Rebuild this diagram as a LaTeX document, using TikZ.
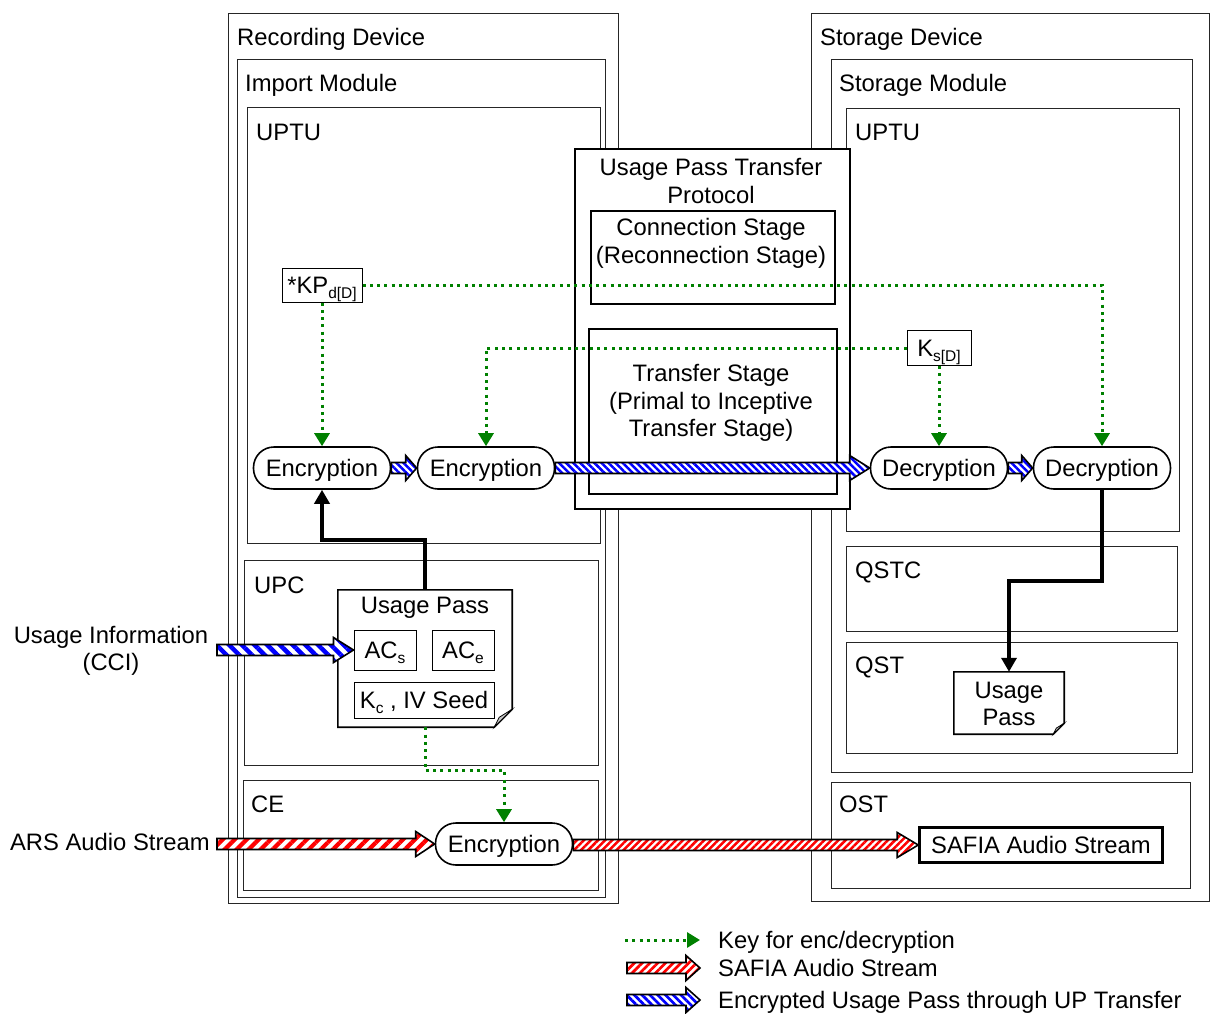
\documentclass[tikz,border=0pt]{standalone}
\usepackage{fontspec}
\setmainfont{Liberation Sans}
\usetikzlibrary{arrows.meta,patterns.meta,calc}

\definecolor{keygreen}{RGB}{0,128,0}
\definecolor{upblue}{RGB}{0,0,255}
\definecolor{avred}{RGB}{255,0,0}

% lowered small index text
\newcommand\subs[1]{\raisebox{-4.5pt}{\fontsize{15.5}{15.5}\selectfont #1}}

% region box with its top-left corner at (#2,#3)
\newcommand\regionbox[6][]{\node[frame,#1, minimum width=#5pt, minimum height=#6pt] (#2) at (#3,#4) {};}

% broad hatched arrow: #1 style, #2 head length, #3 tail, #4 tip
\newcommand\fatarrow[4]{%
  \filldraw[#1] let \p1=(#3), \p2=(#4) in
    (\x1,\y2+5.5pt) -- (\x2-#2,\y2+5.5pt) -- (\x2-#2,\y2+12.5pt) -- (\x2,\y2)
    -- (\x2-#2,\y2-12.5pt) -- (\x2-#2,\y2-5.5pt) -- (\x1,\y2-5.5pt) -- cycle;}

% sheet of paper with a turned-down corner, drawn over node #1
\newcommand\paperdoc[2]{%
  \filldraw[docline] (#1.north west) -- (#1.north east) -- ($(#1.south east)+(0,-#2)$)
    -- ($(#1.south east)+(-#2,0)$) -- (#1.south west) -- cycle;
  \filldraw[fill=gray!45, line width=0.8pt] ($(#1.south east)+(0,-#2)$)
    -- ($(#1.south east)+(-0.72*#2,-0.55*#2)$) -- ($(#1.south east)+(-#2,0)$) -- cycle;}

\tikzset{
  frame/.style={draw=black!85, line width=1.3pt, fill=white, anchor=north west, inner sep=0pt},
  lbl/.style={anchor=base west, inner sep=0pt},
  stadium/.style={draw, line width=1.6pt, fill=white, rounded corners=20.5pt,
    minimum width=137pt, minimum height=42pt, inner sep=0pt, text height=17pt, text depth=0pt},
  keybox/.style={draw, line width=1pt, fill=white, inner sep=0pt, text height=17pt, text depth=0pt},
  docline/.style={draw, line width=1.6pt, fill=white},
  keyline/.style={draw=keygreen, line width=3pt, dash pattern=on 3pt off 4.3pt,
    -{Triangle[width=15pt,length=13pt,fill=keygreen]}},
  passline/.style={line width=3.5pt, -{Triangle[width=15pt,length=14pt]}},
  bluefat/.style={draw, line width=1.6pt, preaction={fill=white},
    pattern={Lines[angle=-45,distance=5pt,line width=2.5pt]}, pattern color=upblue},
  bluewide/.style={draw, line width=1.6pt, preaction={fill=white},
    pattern={Lines[angle=-45,distance=9pt,line width=4.5pt]}, pattern color=upblue},
  redfat/.style={draw, line width=1.6pt, preaction={fill=white},
    pattern={Lines[angle=45,distance=5pt,line width=2.5pt]}, pattern color=avred},
  redwide/.style={draw, line width=1.6pt, preaction={fill=white},
    pattern={Lines[angle=45,distance=8.5pt,line width=4.2pt]}, pattern color=avred},
  legendblue/.style={bluefat, pattern={Lines[angle=-45,distance=5.5pt,line width=2.7pt]}},
  legendred/.style={redfat, pattern={Lines[angle=45,distance=5.5pt,line width=2.7pt]}},
}

\begin{document}
\begin{tikzpicture}[x=1pt, y=-1pt, font=\fontsize{23.8}{27.5}\selectfont]
\useasboundingbox (0,0) rectangle (1210,1014);

% ---------- recording device ----------
\regionbox{recdev}{228}{13}{390}{890}
\regionbox{impmod}{237}{59}{368}{838}
\regionbox{uptuL}{247}{107}{353}{436}
\regionbox{upc}{244}{560}{354}{205}
\regionbox{ce}{243}{780}{355}{110}
\node[lbl] at (237,45.5) {Recording Device};
\node[lbl] at (245,91.5) {Import Module};
\node[lbl] at (256,140.5) {UPTU};
\node[lbl] at (254,593.5) {UPC};
\node[lbl] at (251,812.5) {CE};

% ---------- storage device ----------
\regionbox{stodev}{811}{13}{398}{888}
\regionbox{stomod}{831}{59}{361}{713}
\regionbox{uptuR}{846}{108}{333}{423}
\regionbox{qstc}{846}{546}{331}{85}
\regionbox{qst}{846}{642}{331}{111}
\regionbox{ost}{831}{782}{359}{106}
\node[lbl] at (820,45.5) {Storage Device};
\node[lbl] at (839,91.5) {Storage Module};
\node[lbl] at (855,140.5) {UPTU};
\node[lbl] at (855,578.5) {QSTC};
\node[lbl] at (855,673.5) {QST};
\node[lbl] at (839,812.5) {OST};

% ---------- transfer protocol ----------
\regionbox[line width=2pt, draw=black]{proto}{574}{148}{275}{360}
\regionbox[line width=2pt, draw=black]{connst}{590}{210}{244}{93}
\regionbox[line width=2pt, draw=black]{xferst}{588}{328}{248}{165}
\node[align=center, inner sep=0pt] at (711,181) {Usage Pass Transfer\\Protocol};
\node[align=center, inner sep=0pt] at (711,243.5) {Connection Stage\\(Reconnection Stage)};
\node[align=center, inner sep=0pt] at (711,403) {Transfer Stage\\(Primal to Inceptive\\Transfer Stage)};

% ---------- processing units ----------
\node[stadium] (enc1) at (322,468) {Encryption};
\node[stadium] (enc2) at (486,468) {Encryption};
\node[stadium] (dec1) at (939,468) {Decryption};
\node[stadium] (dec2) at (1102,468) {Decryption};
\node[stadium] (enc3) at (504,844) {Encryption};

% ---------- keys ----------
\node[keybox, minimum width=80pt, minimum height=34pt] (kp) at (322,285) {*KP\subs{d[D]}};
\node[keybox, minimum width=64pt, minimum height=35pt] (ks) at (939,348) {K\subs{s[D]}};

% ---------- usage passes ----------
\node[minimum width=174pt, minimum height=137pt, inner sep=0pt] (updoc) at (425,658.5) {};
\paperdoc{updoc}{18}
\node[inner sep=0pt] at (425,608) {Usage Pass};
\node[keybox, minimum width=62pt, minimum height=40pt] (acs) at (385,650) {AC\subs{s}};
\node[keybox, minimum width=62pt, minimum height=40pt] (ace) at (463,650) {AC\subs{e}};
\node[keybox, minimum width=140pt, minimum height=36pt] (kciv) at (424,700) {K\subs{c}\ , IV Seed};

\node[minimum width=110pt, minimum height=62pt, inner sep=0pt] (updocR) at (1009,703) {};
\paperdoc{updocR}{11}
\node[align=center, inner sep=0pt] at (1009,704) {Usage\\Pass};

% ---------- audio stream sink ----------
\node[draw, line width=2.5pt, fill=white, minimum width=243pt, minimum height=35pt, inner sep=0pt,
  text height=17pt, text depth=0pt] (safia) at (1041,845) {SAFIA Audio Stream};

% ---------- outside inputs ----------
\node[align=center, inner sep=0pt] (cci) at (111,651) {Usage Information\\(CCI)};
\node[anchor=base east, inner sep=0pt] (ars) at (210,850.5) {ARS Audio Stream};
\coordinate (cciin) at (217,652);
\coordinate (arsin) at (217,843);

% ---------- key distribution ----------
\draw[keyline] (kp.east) -| (dec2.north);
\draw[keyline] (kp.south) -- (enc1.north);
\draw[keyline] (ks.west) -| (enc2.north);
\draw[keyline] (ks.south) -- (dec1.north);
\draw[keyline] (updoc.south) -- ++(0,43) -| (enc3.north);

% ---------- usage pass movement ----------
\draw[passline] (updoc.north) -- ++(0,-50) -| (enc1.south);
\draw[passline] (dec2.south) -- ++(0,91) -| (updocR.north);

% ---------- hatched streams ----------
\fatarrow{bluefat}{11pt}{enc1.east}{enc2.west}
\fatarrow{bluefat}{20pt}{enc2.east}{dec1.west}
\fatarrow{bluefat}{11pt}{dec1.east}{dec2.west}
\fatarrow{bluewide}{20pt}{cciin}{acs.west}
\fatarrow{redwide}{19pt}{arsin}{enc3.west}
\fatarrow{redfat}{21pt}{enc3.east}{safia.west}

% ---------- legend ----------
\coordinate (lgA) at (625,940);
\coordinate (lgB) at (700,940);
\coordinate (lrA) at (627,968);
\coordinate (lrB) at (700,968);
\coordinate (lbA) at (627,1000);
\coordinate (lbB) at (700,1000);
\draw[keyline] (lgA) -- (lgB);
\fatarrow{legendred}{14pt}{lrA}{lrB}
\fatarrow{legendblue}{14pt}{lbA}{lbB}
\node[lbl] at (718,948.5) {Key for enc/decryption};
\node[lbl] at (718,976.5) {SAFIA Audio Stream};
\node[lbl] at (718,1008.5) {Encrypted Usage Pass through UP Transfer};
\end{tikzpicture}
\end{document}
